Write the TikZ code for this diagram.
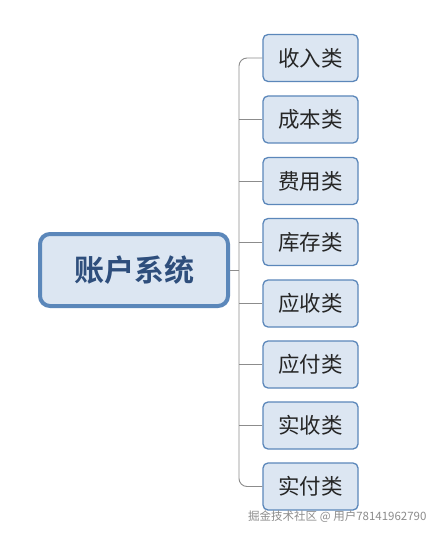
\documentclass[tikz,border=0pt]{standalone}
\usepackage{fontspec}
\newfontfamily\cjk{Noto Sans CJK SC}
\newfontfamily\cjkb{Noto Sans CJK SC Bold}
\definecolor{boxfill}{HTML}{DCE6F2}
\definecolor{boxline}{HTML}{5B87BA}
\definecolor{maintext}{HTML}{2E4E7C}
\definecolor{linkgray}{HTML}{8C8C8C}
\begin{document}
\begin{tikzpicture}[x=1pt,y=-1pt,
  rootbox/.style={draw=boxline,line width=4pt,fill=boxfill,rounded corners=10pt,
    minimum width=188pt,minimum height=72pt,inner sep=0pt,
    font=\cjkb\fontsize{30}{34}\selectfont,text=maintext},
  leafbox/.style={draw=boxline,line width=1.3pt,fill=boxfill,rounded corners=5pt,
    minimum width=95pt,minimum height=47pt,inner sep=0pt,
    font=\cjk\fontsize{21.5}{25}\selectfont,text=black!85},
  link/.style={draw=linkgray,line width=0.9pt},
  wmark/.style={font=\cjk\fontsize{11.5}{13}\selectfont,text=black!45}]
\useasboundingbox (0,0) rectangle (442,537);
\fill[white] (0,0) rectangle (442,537);
\node[rootbox] (root) at (134,270) {账户系统};
\node[leafbox] (c1) at (310.5,58) {收入类};
\node[leafbox] (c2) at (310.5,119.5) {成本类};
\node[leafbox] (c3) at (310.5,181) {费用类};
\node[leafbox] (c4) at (310.5,242) {库存类};
\node[leafbox] (c5) at (310.5,303.5) {应收类};
\node[leafbox] (c6) at (310.5,364.5) {应付类};
\node[leafbox] (c7) at (310.5,425.5) {实收类};
\node[leafbox] (c8) at (310.5,486.5) {实付类};
\coordinate (trunk) at (239,270);
\draw[link] (root.east) -- (trunk);
\draw[link,rounded corners=8pt] (c1.west) -| (trunk) |- (c8.west);
\foreach \i in {2,...,7} {\draw[link] (c\i.west) -- (c\i.west -| trunk);}
\node[wmark,anchor=east] (wm) at (430,517) {掘金技术社区 @ 用户78141962790};
\end{tikzpicture}
\end{document}
